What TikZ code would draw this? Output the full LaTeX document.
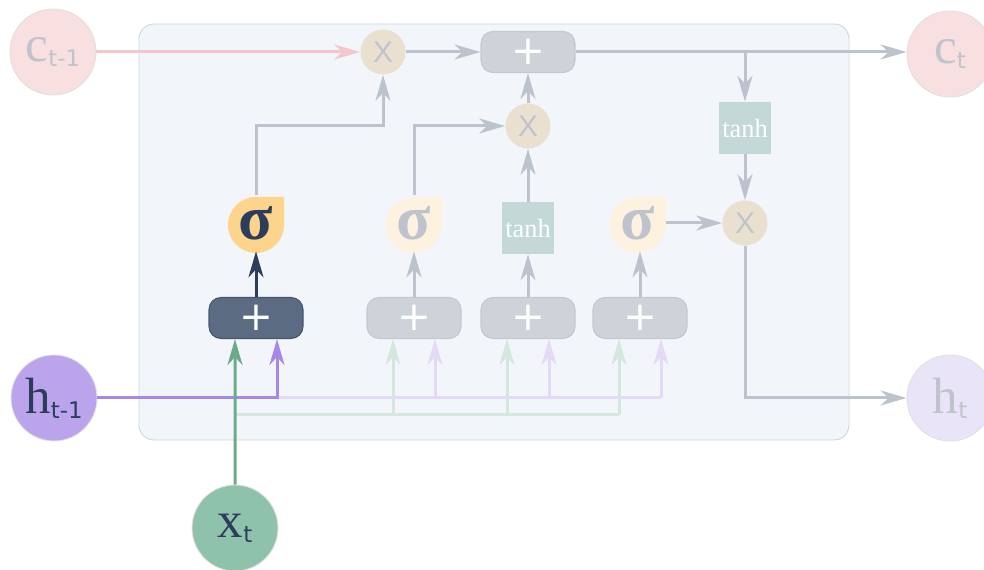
\documentclass[tikz,border=0pt]{standalone}
\usepackage{fontspec}
\setmainfont{Liberation Serif}
\setsansfont{DejaVu Sans}
\newfontfamily\crossfont{Liberation Sans}
\usetikzlibrary{arrows.meta}

\definecolor{cellbg}{HTML}{F2F6FA}
\definecolor{cellrim}{HTML}{CFD4DB}
\definecolor{wiregray}{HTML}{BDC3CC}
\definecolor{ink}{HTML}{BFC4CC}
\definecolor{navy}{HTML}{2B3D5B}
\definecolor{cpink}{HTML}{F2C8CC}
\definecolor{cfill}{HTML}{F8DFE0}
\definecolor{mulfill}{HTML}{EAE0D0}
\definecolor{addfill}{HTML}{CED3DA}
\definecolor{addrim}{HTML}{C4C9D1}
\definecolor{addon}{HTML}{5B6B82}
\definecolor{addonrim}{HTML}{46556D}
\definecolor{sigon}{HTML}{FDD48C}
\definecolor{sigoff}{HTML}{FDF1E0}
\definecolor{tanhfill}{HTML}{C4D8D8}
\definecolor{xdark}{HTML}{6DAA8B}
\definecolor{xlight}{HTML}{D4E7DD}
\definecolor{xfill}{HTML}{8FC2AA}
\definecolor{hdark}{HTML}{A689E7}
\definecolor{hlight}{HTML}{E4DAF8}
\definecolor{hfill}{HTML}{BBA4EC}
\definecolor{hfaint}{HTML}{EAE4F8}

\newcommand{\statelbl}[2]{#1\raisebox{-3pt}{\sffamily\fontsize{13}{13}\selectfont #2}}

\tikzstyle{state} = [circle,minimum size=17.2mm,inner sep=0pt,draw=black!12,line width=0.5pt,font=\fontsize{29}{29}\selectfont]
\tikzstyle{mul} = [circle,minimum size=9mm,inner sep=0pt,fill=mulfill,text=ink,font=\crossfont\fontsize{17}{17}\selectfont]
\tikzstyle{add} = [rectangle,rounded corners=2.4mm,minimum width=18.8mm,minimum height=8.2mm,fill=addfill,draw=addrim,line width=0.6pt,text=white,font=\sffamily\fontsize{23}{23}\selectfont]
\tikzstyle{act} = [rectangle,minimum size=10.4mm,inner sep=0pt,fill=tanhfill,text=white,font=\fontsize{15}{15}\selectfont]
\tikzstyle{sigma} = [circle,minimum size=11.2mm,inner sep=0pt,font=\bfseries\fontsize{36}{36}\selectfont]
\tikzstyle{wire} = [draw=wiregray,line width=0.6mm]
\tikzstyle{tip} = [-{Stealth[length=5.2mm,width=3mm,inset=1.6mm]}]

\begin{document}
\begin{tikzpicture}[x=0.2mm,y=0.2mm]
				\useasboundingbox (0,0) rectangle (984,570);
				% cell body
				\draw[fill=cellbg,draw=cellrim,line width=0.5pt,rounded corners=3mm] (139,130) rectangle (849,546);
				% states
				\node (cprev) [state,fill=cfill,text=ink] at (53,518) {\statelbl{c}{t-1}};
				\node (cnext) [state,fill=cfill,text=ink] at (950,516) {\statelbl{c}{t}};
				\node (hprev) [state,fill=hfill,text=navy] at (54,172) {\statelbl{h}{t-1}};
				\node (hnext) [state,fill=hfaint,text=ink] at (950,172) {\statelbl{h}{t}};
				\node (xin) [state,fill=xfill,text=navy] at (235,42) {\statelbl{x}{t}};
				% cell state path
				\node (mulf) [mul] at (383,518) {X};
				\node (addc) [add] at (528,518) {+};
				\node (muli) [mul] at (528,444) {X};
				\node (tanhc) [act] at (745,442) {tanh};
				\node (mulo) [mul] at (745,347) {X};
				\node (tanhg) [act] at (528,342) {tanh};
				% gates
				\foreach \n/\x/\c/\t in {sigf/256/sigon/navy, sigi/414/sigoff/ink, sigo/638/sigoff/ink} {
					\fill[\c] (\x+28,345) arc[start angle=0,end angle=-270,radius=28] -- (\x+28,373) -- cycle;
					\node (\n) [sigma,text=\t] at (\x,347) {σ};
				}
				\node (addf) [add,fill=addon,draw=addonrim] at (256,252) {+};
				\node (addi) [add] at (414,252) {+};
				\node (addg) [add] at (528,252) {+};
				\node (addo) [add] at (640,252) {+};
				\foreach \g in {addf,addi,addg,addo} {
					\coordinate (\g-x) at ([xshift=-4.2mm]\g.south);
					\coordinate (\g-h) at ([xshift=4.2mm]\g.south);
				}
				\coordinate (xbus) at (235,155);
				% wiring
				\draw[wire,draw=cpink,tip] (cprev) -- (mulf);
				\draw[wire,tip] (mulf) -- (addc);
				\draw[wire,tip] (addc) -- (addc -| cnext.west);
				\draw[wire,tip] (tanhc |- addc) -- (tanhc);
				\draw[wire,tip] (tanhc) -- (mulo);
				\draw[wire,tip] (mulo) |- (hnext);
				\draw[wire,tip] (muli) -- (addc);
				\draw[wire,tip] (tanhg) -- (muli);
				\draw[wire,tip] (sigi.north) |- (muli);
				\draw[wire,tip] (sigf.north) -- (sigf |- muli) -| (mulf);
				\draw[wire,tip] (sigo.east |- mulo) -- (mulo);
				\draw[wire,draw=navy,tip] (addf) -- (sigf.south);
				\draw[wire,tip] (addi) -- (sigi.south);
				\draw[wire,tip] (addg) -- (tanhg);
				\draw[wire,tip] (addo) -- (addo |- sigo.south);
				% inputs
				\draw[wire,draw=xlight] (xbus) -- (xbus -| addo-x);
				\draw[wire,draw=hlight] (hprev -| addf-h) -- (hprev -| addo-h);
				\foreach \g in {addi,addg,addo} {
					\draw[wire,draw=xlight,tip] (xbus -| \g-x) -- (\g-x);
					\draw[wire,draw=hlight,tip] (hprev -| \g-h) -- (\g-h);
				}
				\draw[wire,draw=hdark,tip] (hprev) -| (addf-h);
				\draw[wire,draw=xdark,tip] (xin) -- (addf-x);
			\end{tikzpicture}
\end{document}
